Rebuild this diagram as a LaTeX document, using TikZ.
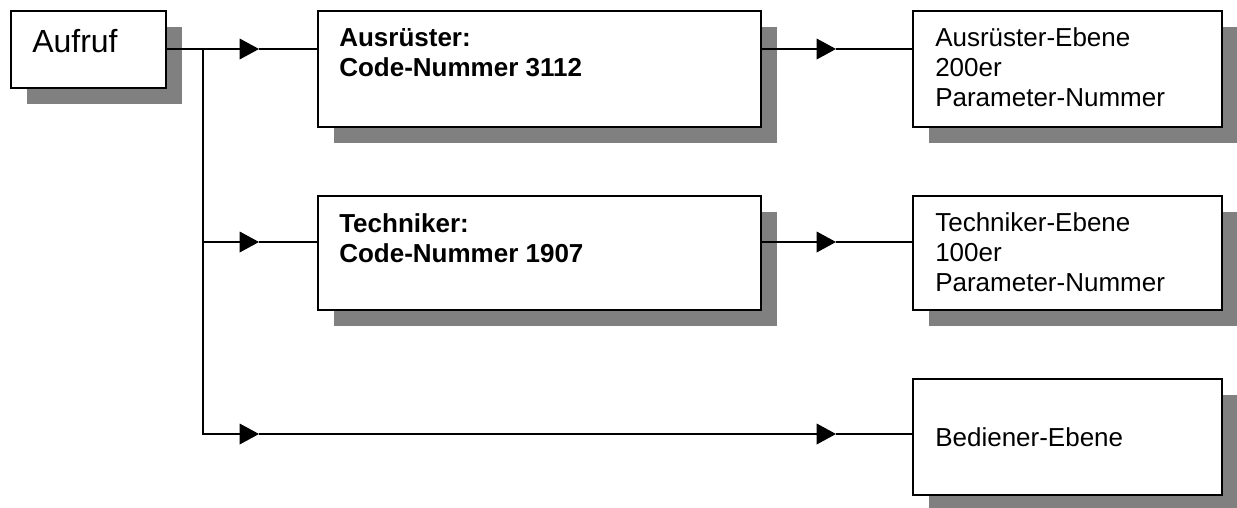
\documentclass[tikz,border=0pt]{standalone}
\usepackage{fontspec}
\setmainfont{Liberation Sans}
\usetikzlibrary{arrows.meta,fit,shadows}
\tikzset{
  box/.style={draw=black, line width=1.9pt, fill=white, inner sep=0pt,
    drop shadow={shadow xshift=12pt, shadow yshift=-12pt, fill=black!50, opacity=1}},
  conn/.style={line width=1pt, draw=black},
  arrowtip/.style={-{Triangle[length=14.5pt,width=15.5pt]}},
  lbl/.style={inner sep=0pt, anchor=base west, align=left,
    font=\fontsize{19.5pt}{22.5pt}\selectfont},
  biglbl/.style={inner sep=0pt, anchor=base west,
    font=\fontsize{24pt}{28pt}\selectfont},
}
\begin{document}
\begin{tikzpicture}[x=0.75pt,y=-0.75pt]
\useasboundingbox (0,0) rectangle (1237,507);
% boxes
\node[box, fit={(11,11) (166,88)}] (auf) {};
\node[box, fit={(318,11) (761,127)}] (ca) {};
\node[box, fit={(913,11) (1222,127)}] (al) {};
\node[box, fit={(318,196) (761,310)}] (ct) {};
\node[box, fit={(913,196) (1222,310)}] (tl) {};
\node[box, fit={(913,379) (1222,495)}] (bl) {};
% texts (anchored at the baseline of the last line)
\node[biglbl] (auf-t) at (32,52) {Aufruf};
\node[lbl] (ca-t) at (339,76.5) {\textbf{Ausrüster:}\\\textbf{Code-Nummer 3112}};
\node[lbl] (al-t) at (935,106.5) {Ausrüster-Ebene\\200er\\Parameter-Nummer};
\node[lbl] (ct-t) at (339,262) {\textbf{Techniker:}\\\textbf{Code-Nummer 1907}};
\node[lbl] (tl-t) at (935,291) {Techniker-Ebene\\100er\\Parameter-Nummer};
\node[lbl] (bl-t) at (935,446) {Bediener-Ebene};
% connector points
\coordinate (j0) at (203,49);
\coordinate (tA1) at (259,49);
\coordinate (tA2) at (836,49);
\coordinate (jT) at (203,242);
\coordinate (tT1) at (259,242);
\coordinate (tT2) at (836,242);
\coordinate (tB1) at (259,434);
\coordinate (tB2) at (836,434);
% row 1
\draw[conn, arrowtip] (auf.east |- tA1) -- (tA1);
\draw[conn] (tA1) -- (ca.west |- tA1);
\draw[conn, arrowtip] (ca.east |- tA2) -- (tA2);
\draw[conn] (tA2) -- (al.west |- tA2);
% trunk and row 3
\draw[conn, arrowtip] (j0) |- (tB1);
\draw[conn, arrowtip] (tB1) -- (tB2);
\draw[conn] (tB2) -- (bl.west |- tB2);
% row 2
\draw[conn, arrowtip] (jT) -- (tT1);
\draw[conn] (tT1) -- (ct.west |- tT1);
\draw[conn, arrowtip] (ct.east |- tT2) -- (tT2);
\draw[conn] (tT2) -- (tl.west |- tT2);
\end{tikzpicture}
\end{document}
